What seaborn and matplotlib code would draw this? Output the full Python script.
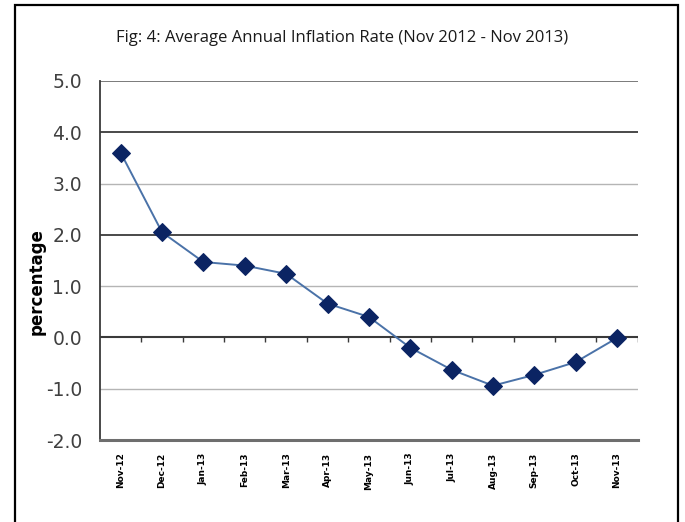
import pandas as pd
import numpy as np
import matplotlib
matplotlib.use('Agg')
import matplotlib.pyplot as plt
import matplotlib.patches as patches
import seaborn as sns

#Data
months = ['Nov-12', 'Dec-12', 'Jan-13', 'Feb-13', 'Mar-13', 'Apr-13', 'May-13',
          'Jun-13', 'Jul-13', 'Aug-13', 'Sep-13', 'Oct-13', 'Nov-13']
inflation = [3.6, 2.05, 1.47, 1.40, 1.24, 0.66, 0.40,
             -0.20, -0.63, -0.94, -0.73, -0.48, -0.01]
y_ticks = [-2.0, -1.0, 0.0, 1.0, 2.0, 3.0, 4.0, 5.0]

df = pd.DataFrame({'Month': months, 'Rate': inflation})

sns.set_style('white')
plt.rcParams['font.family'] = ['DejaVu Sans']

fig = plt.figure(figsize=(6.85, 5.22), dpi=100)
ax = fig.add_axes([0.146, 0.157, 0.785, 0.688])

sns.lineplot(data=df, x='Month', y='Rate', ax=ax, sort=False,
             color='#4a72a8', linewidth=1.4, marker='D', markersize=9,
             markerfacecolor='#0b2463', markeredgecolor='#0b2463', zorder=5)

ax.set_xlim(-0.5, len(months) - 0.5)
ax.set_ylim(y_ticks[0], y_ticks[-1])
ax.set_yticks(y_ticks)
ax.set_yticklabels([f'{t:.1f}' for t in y_ticks], fontsize=13.5, color='#404040')
ax.tick_params(axis='y', length=0, pad=13)
ax.tick_params(axis='x', length=0, pad=9)
ax.set_xticks(range(len(months)))
ax.set_xticklabels(months, rotation=90, fontsize=6.5, fontweight='bold', color='black', va='top')

#Gridlines: even values dark, odd values light
ax.yaxis.grid(True)
for t, gl in zip(y_ticks, ax.yaxis.get_gridlines()):
    if t % 2 == 0:
        gl.set_color('#3a3a3a')
        gl.set_linewidth(1.3)
    else:
        gl.set_color('#b5b5b5')
        gl.set_linewidth(1.0)
    if t == y_ticks[-1]:
        gl.set_color('#707070')
        gl.set_linewidth(1.3)

#Zero axis with small ticks between categories
ax.axhline(0, color='#3a3a3a', linewidth=1.5, zorder=3)
bounds = np.arange(len(months)) + 0.5
ax.vlines(bounds, -0.08, 0, color='#3a3a3a', linewidth=1.0, zorder=3)

for s in ['top', 'right']:
    ax.spines[s].set_visible(False)
ax.spines['left'].set_color('#3a3a3a')
ax.spines['left'].set_linewidth(1.3)
ax.spines['bottom'].set_color('#6e6e6e')
ax.spines['bottom'].set_linewidth(2.2)

ax.set_xlabel('')
ax.set_ylabel('percentage', fontsize=12, fontweight='bold', color='black')
ax.yaxis.set_label_coords(-0.102, 0.44)

fig.text(0.499, 0.927, 'Fig: 4: Average Annual Inflation Rate (Nov 2012 - Nov 2013)',
         ha='center', va='center', fontsize=12, family='Open Sans', color='#1a1a1a')

#Outer frame
frame = patches.Rectangle((15 / 685, -0.02), (678 - 15) / 685, 1 - 5 / 522 + 0.02,
                          transform=fig.transFigure, fill=False, edgecolor='black',
                          linewidth=1.6, clip_on=False)
fig.patches.append(frame)

plt.savefig('out.png', dpi=100)
